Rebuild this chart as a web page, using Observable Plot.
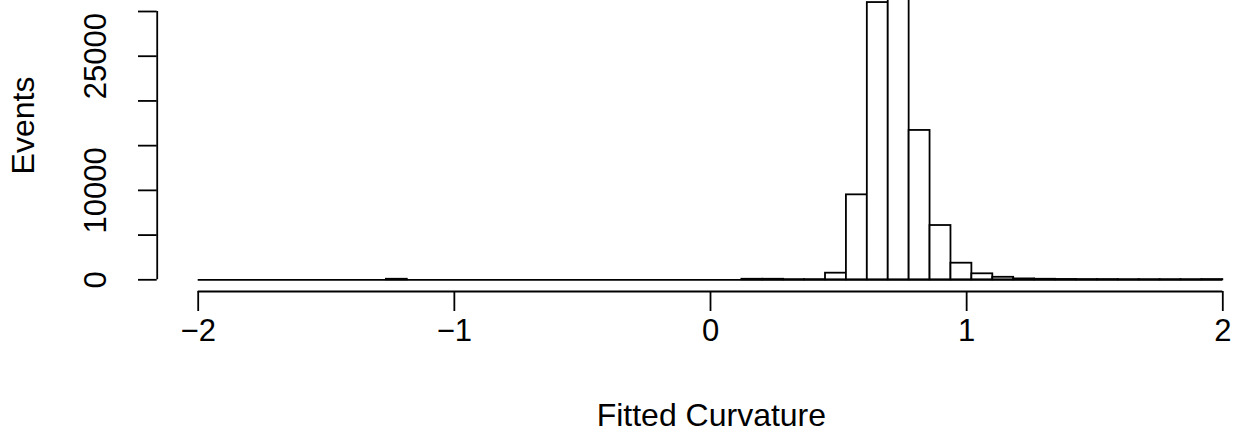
<!DOCTYPE html>
<html>
<head>
<meta charset="utf-8">
<script src="https://cdn.jsdelivr.net/npm/d3@7"></script>
<script src="https://cdn.jsdelivr.net/npm/@observablehq/plot@0.6"></script>
<style>
  html, body { margin: 0; padding: 0; background: white; }
  #chart svg { display: block; }
</style>
</head>
<body>
<div id="chart"></div>
<script>
// Histogram of fitted curvature: 49 equal bins between -2 and 2
const binStart = -2;
const binEnd = 2;
const counts = [
  0, 0, 0, 0, 0, 0, 0, 0, 0,
  60,
  0, 0, 0, 0, 0, 0, 0, 0, 0, 0, 0, 0, 0, 0, 0, 0,
  60, 60, 20, 20,
  740, 9500, 31000, 32700, 16700, 6070, 1856, 670, 280, 100,
  60, 40, 30, 30, 20, 20, 20, 20, 30
];
const xTicks = [-2, -1, 0, 1, 2];
const xTickLabels = ["\u22122", "\u22121", "0", "1", "2"];
const yTicks = [0, 5000, 10000, 15000, 20000, 25000, 30000];
const yTickLabels = ["0", "", "10000", "", "", "25000", ""];
const xTitle = "Fitted Curvature";
const yTitle = "Events";

const nBins = counts.length;
const binWidth = (binEnd - binStart) / nBins;
const bins = counts.map((c, i) => ({
  x1: binStart + i * binWidth,
  x2: binStart + (i + 1) * binWidth,
  count: c
}));
const maxCount = d3.max(counts);
// R-style 4% padding gives the axis positions
const xAxisLevel = -0.04 * maxCount;
const yAxisLevel = binStart - 0.04 * (binEnd - binStart);

const W = 1243, H = 442;
const font = "'Liberation Sans', Arial, Helvetica, sans-serif";
const lw = 1.8;

const chart = Plot.plot({
  width: W,
  height: H,
  marginLeft: 156.7,
  marginRight: 0,
  marginTop: 0,
  marginBottom: 151,
  style: { fontFamily: font, fontSize: "31px", background: "white", color: "black" },
  x: { domain: [binStart, binEnd], range: [197.7, 1222.3] },
  y: { domain: [0, 30000], range: [279.3, 11] },
  marks: [
    Plot.ruleY([0], { x1: binStart, x2: binEnd, stroke: "black", strokeWidth: lw }),
    Plot.rectY(bins.filter(d => d.count > 0), {
      x1: "x1", x2: "x2", y1: 0, y2: "count",
      fill: "white", stroke: "black", strokeWidth: lw, clip: true
    }),
    Plot.ruleY([xAxisLevel], { x1: xTicks[0], x2: xTicks[xTicks.length - 1], stroke: "black", strokeWidth: lw }),
    Plot.ruleX([yAxisLevel], { y1: yTicks[0], y2: yTicks[yTicks.length - 1], stroke: "black", strokeWidth: lw }),
    Plot.axisX(xTicks, {
      anchor: "bottom", tickSize: 20, tickPadding: 7, strokeWidth: lw,
      tickFormat: (d, i) => xTickLabels[i], fontSize: 31, label: null
    }),
    Plot.axisY(yTicks, {
      anchor: "left", tickSize: 18.7, tickPadding: 33, strokeWidth: lw,
      tickRotate: -90, textAnchor: "middle", lineAnchor: "bottom",
      tickFormat: (d, i) => yTickLabels[i], fontSize: 31, label: null
    }),
    Plot.text([xTitle], {
      frameAnchor: "bottom", lineAnchor: "bottom", dx: 11, dy: 134.5,
      text: d => d, fontSize: 32
    }),
    Plot.text([yTitle], {
      frameAnchor: "left", lineAnchor: "bottom", rotate: -90, dx: -123.7, dy: -20.5,
      text: d => d, fontSize: 32, textAnchor: "middle"
    })
  ]
});
document.getElementById("chart").appendChild(chart);
</script>
</body>
</html>
